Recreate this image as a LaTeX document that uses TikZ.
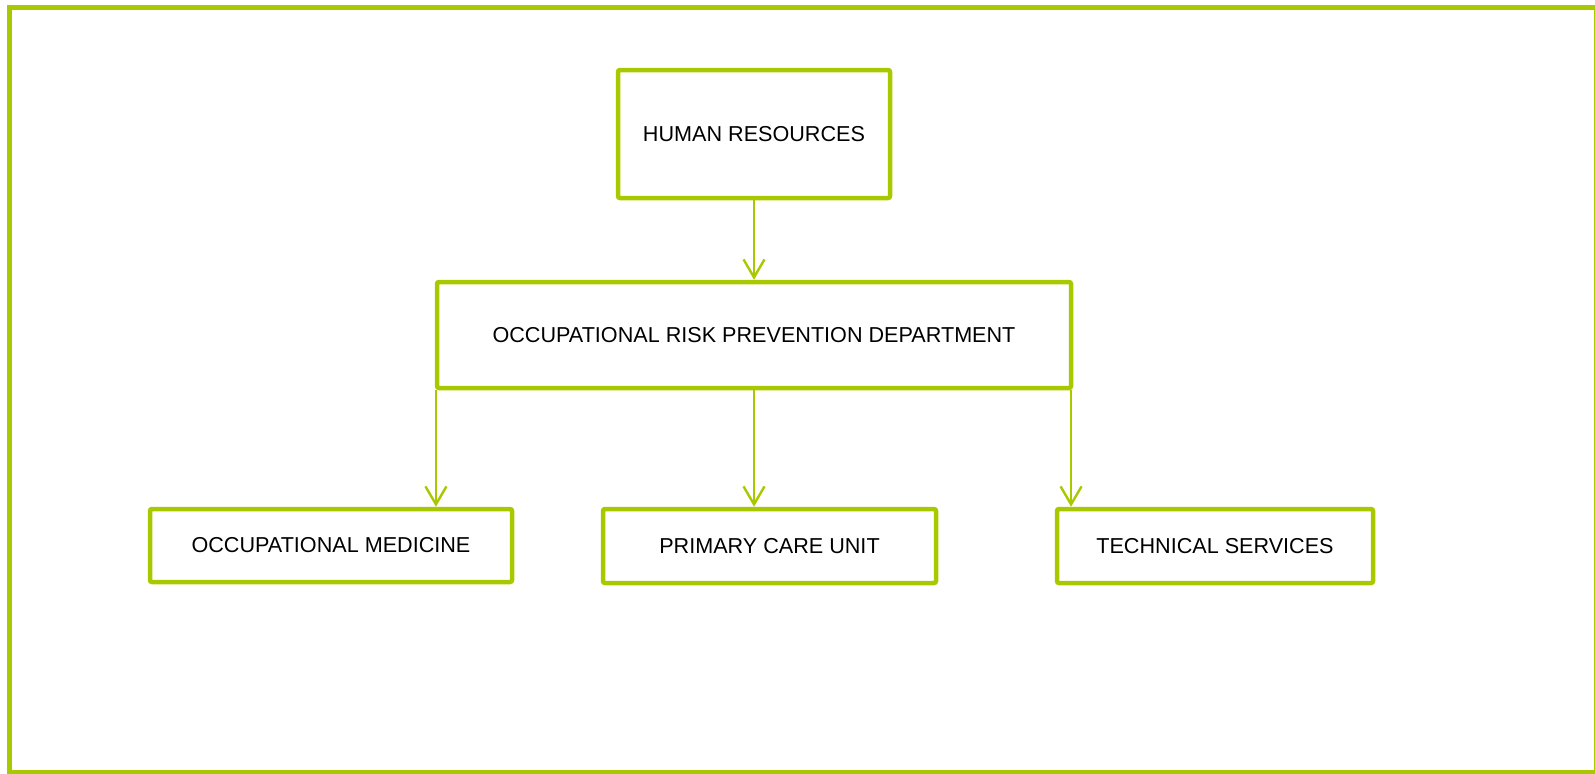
\documentclass[tikz,border=0pt]{standalone}
\usepackage{fontspec}
\setmainfont{Liberation Sans}
\usepackage{xcolor}
\usepackage{tikz}
\usetikzlibrary{positioning,arrows.meta}
\definecolor{orgGreen}{RGB}{170,200,0}

\begin{document}
\begin{tikzpicture}[
	x=0.5pt, y=-0.5pt, % 1 đơn vị = 1 pixel
	unitbox/.style={
		draw=orgGreen, line width=2.25pt,
		rounded corners=1pt,
		inner sep=0pt,
		font=\fontsize{10.8}{13}\selectfont,
		anchor=center
	},
	link/.style={
		-{Straight Barb[length=9pt, width=10.5pt, line width=1.2pt]},
		orgGreen, line width=1.2pt
	}
	]
	\useasboundingbox (0,0) rectangle (1595,773);
	% Khung ngoài
	\draw[orgGreen, line width=2.35pt] (9.7,7.5) rectangle (1596.5,772.5);
	
	% Các hộp
	\node[unitbox, minimum width=136pt, minimum height=64pt] (hr) at (754,134) {HUMAN RESOURCES};
	\node[unitbox, minimum width=317pt, minimum height=53pt] (orpd) at (754,335) {OCCUPATIONAL RISK PREVENTION DEPARTMENT};
	\node[unitbox, minimum width=181pt, minimum height=36.5pt] (om) at (331,545.5) {OCCUPATIONAL MEDICINE};
	\node[unitbox, minimum width=166.5pt, minimum height=37pt] (pcu) at (769.5,546) {PRIMARY CARE UNIT};
	\node[unitbox, minimum width=158pt, minimum height=37pt] (ts) at (1215,546) {TECHNICAL SERVICES};
	
	% Mũi tên
	\draw[link] (hr.south) -- (orpd.north);
	\draw[link] ([xshift=0.6pt]orpd.south west) -- ([xshift=0.6pt]orpd.south west |- om.north);
	\draw[link] (orpd.south) -- (orpd.south |- pcu.north);
	\draw[link] ([xshift=-1.1pt]orpd.south east) -- ([xshift=-1.1pt]orpd.south east |- ts.north);
	
\end{tikzpicture}
\end{document}
